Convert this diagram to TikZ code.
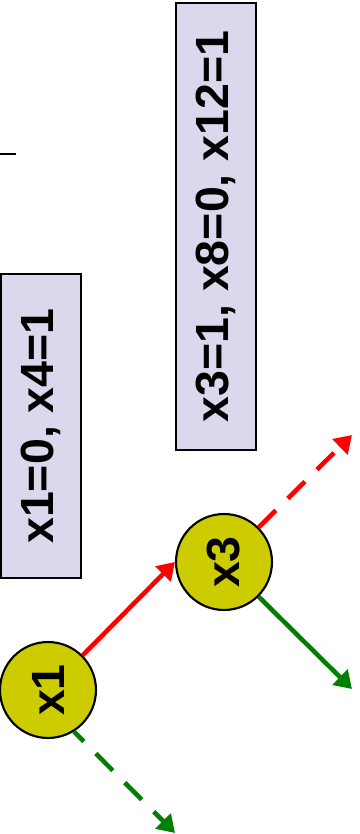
\documentclass[tikz,border=0pt]{standalone}
\usepackage{fontspec}
\usepackage{tikz}
\usetikzlibrary{arrows.meta,positioning}
\newfontfamily\arialbf{Liberation Sans}
\definecolor{BoxLilac}{RGB}{217,216,236}
\definecolor{NodeOlive}{RGB}{204,204,0}
\definecolor{BranchGreen}{RGB}{0,128,0}
\definecolor{BranchRed}{RGB}{255,0,0}

\begin{document}
\begin{tikzpicture}[x=0.02cm, y=-0.02cm,
  every node/.style={font=\arialbf\bfseries\fontsize{26.5}{30}\selectfont},
  varnode/.style={circle, draw, line width=1.2pt, fill=NodeOlive,
                  minimum size=1.92cm, inner sep=0pt},
  fixbox/.style={draw, line width=1pt, fill=BoxLilac, rotate=90,
                 minimum height=1.6cm, inner sep=0pt},
  branch/.style={line width=2.6pt, -{Triangle[length=0.34cm, width=0.42cm]}},
  gap/.style={dash pattern=on 0.48cm off 0.34cm}]
\useasboundingbox (0,0) rectangle (359,834);
% variable nodes
\node[varnode] (x1) at (48,690) {\rotatebox{90}{x1}};
\node[varnode] (x3) at (224,562) {\rotatebox{90}{x3}};
% fixed variables along the path
\node[fixbox, minimum width=6.08cm] (fix1) at (41,426) {x1=0, x4=1};
\node[fixbox, minimum width=8.94cm] (fix3) at (216,226.5) {x3=1, x8=0, x12=1};
% open ends
\coordinate (up3) at (352,435);
\coordinate (down3) at (352,689);
\coordinate (down1) at (175,833);
\coordinate (stubA) at (0,154);
\coordinate (stubB) at (16,154);
\draw[line width=0.8pt] (stubA) -- (stubB);
\draw[branch, BranchRed] (x1.45) -- (x3.west);
\draw[branch, BranchRed, gap] (x3.45) -- (up3);
\draw[branch, BranchGreen] (x3.-45) -- (down3);
\draw[branch, BranchGreen, gap, dash phase=0.2cm] (x1.-58) -- (down1);
\end{tikzpicture}
\end{document}
